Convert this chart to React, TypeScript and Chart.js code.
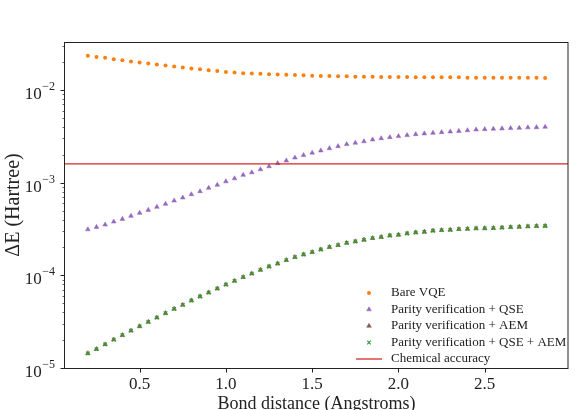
import { useEffect, useRef } from 'react';
import { Chart, registerables } from 'chart.js';
import { drawPoint } from 'chart.js/helpers';

Chart.register(...registerables);

// Bond distances (Angstroms)
const bondDistance = [
  0.2, 0.25, 0.3, 0.35, 0.4, 0.45, 0.5, 0.55, 0.6, 0.65,
  0.7, 0.75, 0.8, 0.85, 0.9, 0.95, 1.0, 1.05, 1.1, 1.15,
  1.2, 1.25, 1.3, 1.35, 1.4, 1.45, 1.5, 1.55, 1.6, 1.65,
  1.7, 1.75, 1.8, 1.85, 1.9, 1.95, 2.0, 2.05, 2.1, 2.15,
  2.2, 2.25, 2.3, 2.35, 2.4, 2.45, 2.5, 2.55, 2.6, 2.65,
  2.7, 2.75, 2.8, 2.85,
];

// Energy error (Hartree) for each method
const bareVqe = [
  2.34e-2, 2.28e-2, 2.23e-2, 2.15e-2, 2.10e-2, 2.03e-2, 1.98e-2, 1.93e-2, 1.89e-2, 1.84e-2,
  1.80e-2, 1.75e-2, 1.71e-2, 1.68e-2, 1.64e-2, 1.61e-2, 1.57e-2, 1.55e-2, 1.52e-2, 1.51e-2,
  1.50e-2, 1.48e-2, 1.47e-2, 1.46e-2, 1.45e-2, 1.44e-2, 1.43e-2, 1.42e-2, 1.42e-2, 1.41e-2,
  1.41e-2, 1.39e-2, 1.39e-2, 1.39e-2, 1.38e-2, 1.38e-2, 1.38e-2, 1.38e-2, 1.37e-2, 1.37e-2,
  1.37e-2, 1.37e-2, 1.37e-2, 1.37e-2, 1.36e-2, 1.36e-2, 1.36e-2, 1.36e-2, 1.36e-2, 1.36e-2,
  1.36e-2, 1.36e-2, 1.36e-2, 1.35e-2,
];

const parityQse = [
  3.13e-4, 3.32e-4, 3.52e-4, 3.79e-4, 4.05e-4, 4.37e-4, 4.71e-4, 5.07e-4, 5.47e-4, 5.89e-4,
  6.39e-4, 6.89e-4, 7.48e-4, 8.06e-4, 8.77e-4, 9.45e-4, 1.03e-3, 1.11e-3, 1.21e-3, 1.29e-3,
  1.39e-3, 1.50e-3, 1.62e-3, 1.73e-3, 1.86e-3, 1.98e-3, 2.10e-3, 2.22e-3, 2.35e-3, 2.47e-3,
  2.60e-3, 2.69e-3, 2.79e-3, 2.92e-3, 3.01e-3, 3.09e-3, 3.17e-3, 3.25e-3, 3.33e-3, 3.39e-3,
  3.44e-3, 3.50e-3, 3.56e-3, 3.61e-3, 3.67e-3, 3.74e-3, 3.77e-3, 3.81e-3, 3.84e-3, 3.87e-3,
  3.90e-3, 3.94e-3, 3.96e-3, 4.00e-3,
];

const parityAem = [
  1.44e-5, 1.60e-5, 1.80e-5, 2.02e-5, 2.26e-5, 2.53e-5, 2.82e-5, 3.14e-5, 3.50e-5, 3.90e-5,
  4.35e-5, 4.80e-5, 5.35e-5, 5.91e-5, 6.52e-5, 7.20e-5, 7.95e-5, 8.72e-5, 9.57e-5, 1.045e-4,
  1.146e-4, 1.245e-4, 1.34e-4, 1.46e-4, 1.57e-4, 1.68e-4, 1.78e-4, 1.90e-4, 2.02e-4, 2.12e-4,
  2.24e-4, 2.32e-4, 2.42e-4, 2.52e-4, 2.59e-4, 2.69e-4, 2.74e-4, 2.83e-4, 2.90e-4, 2.95e-4,
  3.03e-4, 3.08e-4, 3.10e-4, 3.15e-4, 3.17e-4, 3.21e-4, 3.22e-4, 3.24e-4, 3.27e-4, 3.31e-4,
  3.34e-4, 3.37e-4, 3.40e-4, 3.41e-4,
];

const parityQseAem = [
  1.44e-5, 1.60e-5, 1.80e-5, 2.02e-5, 2.26e-5, 2.53e-5, 2.82e-5, 3.14e-5, 3.50e-5, 3.90e-5,
  4.35e-5, 4.80e-5, 5.35e-5, 5.91e-5, 6.52e-5, 7.20e-5, 7.95e-5, 8.72e-5, 9.57e-5, 1.045e-4,
  1.146e-4, 1.245e-4, 1.34e-4, 1.46e-4, 1.57e-4, 1.68e-4, 1.78e-4, 1.90e-4, 2.02e-4, 2.12e-4,
  2.24e-4, 2.32e-4, 2.42e-4, 2.52e-4, 2.59e-4, 2.69e-4, 2.74e-4, 2.83e-4, 2.90e-4, 2.95e-4,
  3.03e-4, 3.08e-4, 3.10e-4, 3.15e-4, 3.17e-4, 3.21e-4, 3.22e-4, 3.24e-4, 3.27e-4, 3.31e-4,
  3.34e-4, 3.37e-4, 3.40e-4, 3.41e-4,
];

const chemicalAccuracy = 1.6e-3;

// Axis extents and tick values
const xRange = [0.0675, 2.9825];
const yRange = [1e-5, 3.3e-2];
const xTickValues = [0.5, 1.0, 1.5, 2.0, 2.5];
const yDecades = [1e-5, 1e-4, 1e-3, 1e-2];

const seriesLabels = [
  'Bare VQE',
  'Parity verification + QSE',
  'Parity verification + AEM',
  'Parity verification + QSE + AEM',
  'Chemical accuracy',
];

const COLORS = {
  orange: '#ff7f0e',
  purple: '#9467bd',
  brown: '#8c564b',
  green: '#2ca02c',
  red: '#d62728',
  ink: '#222222',
};

const SERIF = "'Liberation Serif', 'Times New Roman', serif";

function decadeExponent(value: number): number | null {
  const exp = Math.round(Math.log10(value));
  if (Math.abs(value / Math.pow(10, exp) - 1) > 1e-6) return null;
  return exp;
}

function points(values: number[]) {
  return bondDistance.map((x, i) => ({ x, y: values[i] }));
}

type LegendRow = {
  label: string;
  color: string;
  kind: 'point' | 'line';
  pointStyle?: string;
  radius?: number;
  borderWidth?: number;
};

const legendRows: LegendRow[] = [
  { label: seriesLabels[0], color: COLORS.orange, kind: 'point', pointStyle: 'circle', radius: 2, borderWidth: 0 },
  { label: seriesLabels[1], color: COLORS.purple, kind: 'point', pointStyle: 'triangle', radius: 2.7, borderWidth: 0.5 },
  { label: seriesLabels[2], color: COLORS.brown, kind: 'point', pointStyle: 'triangle', radius: 2.7, borderWidth: 0.5 },
  { label: seriesLabels[3], color: COLORS.green, kind: 'point', pointStyle: 'crossRot', radius: 2.5, borderWidth: 1.1 },
  { label: seriesLabels[4], color: COLORS.red, kind: 'line' },
];

// Frame, tick marks, power-of-ten labels and the in-axes legend
const framePlugin = {
  id: 'frameAndLegend',
  afterDraw(chart: any) {
    const { ctx, chartArea } = chart;
    const { left, right, top, bottom } = chartArea;
    const xs = chart.scales.x;
    const ys = chart.scales.y;
    ctx.save();

    // y tick marks and 10^n labels
    ctx.strokeStyle = COLORS.ink;
    ctx.fillStyle = COLORS.ink;
    ys.ticks.forEach((t: any) => {
      const exp = decadeExponent(t.value);
      const major = exp !== null;
      const py = Math.round(ys.getPixelForValue(t.value)) + 0.5;
      ctx.lineWidth = major ? 1 : 0.7;
      ctx.beginPath();
      ctx.moveTo(left - (major ? 4.5 : 2.5), py);
      ctx.lineTo(left, py);
      ctx.stroke();
      if (major) {
        const sup = '\u2212' + String(Math.abs(exp as number));
        ctx.textBaseline = 'alphabetic';
        ctx.textAlign = 'right';
        ctx.font = `12px ${SERIF}`;
        const supRight = left - 10;
        ctx.fillText(sup, supRight, py - 0.5);
        const supWidth = ctx.measureText(sup).width;
        ctx.font = `17px ${SERIF}`;
        ctx.fillText('10', supRight - supWidth - 0.5, py + 8);
      }
    });

    // x tick marks
    xs.ticks.forEach((t: any) => {
      const px = Math.round(xs.getPixelForValue(t.value)) + 0.5;
      ctx.lineWidth = 1;
      ctx.beginPath();
      ctx.moveTo(px, bottom);
      ctx.lineTo(px, bottom + 4.5);
      ctx.stroke();
    });

    // frame
    ctx.lineWidth = 1;
    ctx.strokeRect(Math.round(left) - 0.5, Math.round(top) + 0.5, Math.round(right - left) + 0.5, Math.round(bottom - top));

    // legend
    const rowGap = 16.5;
    const markerX = right - 199;
    const textX = right - 177;
    ctx.font = `13px ${SERIF}`;
    ctx.textBaseline = 'middle';
    ctx.textAlign = 'left';
    legendRows.forEach((row, i) => {
      const y = bottom - 9 - (legendRows.length - 1 - i) * rowGap;
      if (row.kind === 'line') {
        ctx.strokeStyle = row.color;
        ctx.lineWidth = 1.3;
        ctx.beginPath();
        ctx.moveTo(right - 212, y);
        ctx.lineTo(right - 186, y);
        ctx.stroke();
      } else {
        ctx.fillStyle = row.color;
        ctx.strokeStyle = row.color;
        ctx.lineWidth = row.borderWidth ?? 0;
        drawPoint(ctx, { pointStyle: row.pointStyle, radius: row.radius, rotation: 0, borderWidth: row.borderWidth }, markerX, y);
      }
      ctx.fillStyle = COLORS.ink;
      ctx.fillText(row.label, textX, y);
    });
    ctx.restore();
  },
};

export default function App() {
  const canvasRef = useRef<HTMLCanvasElement>(null);

  useEffect(() => {
    if (!canvasRef.current) return;
    const chart = new Chart(canvasRef.current, {
      type: 'scatter',
      data: {
        datasets: [
          {
            label: seriesLabels[0],
            data: points(bareVqe),
            pointStyle: 'circle',
            pointRadius: 2,
            borderWidth: 0,
            backgroundColor: COLORS.orange,
            borderColor: COLORS.orange,
            order: 5,
          },
          {
            label: seriesLabels[1],
            data: points(parityQse),
            pointStyle: 'triangle',
            pointRadius: 2.7,
            borderWidth: 0.5,
            backgroundColor: COLORS.purple,
            borderColor: COLORS.purple,
            order: 4,
          },
          {
            label: seriesLabels[2],
            data: points(parityAem),
            pointStyle: 'triangle',
            pointRadius: 2.7,
            borderWidth: 0.5,
            backgroundColor: COLORS.brown,
            borderColor: COLORS.brown,
            order: 3,
          },
          {
            label: seriesLabels[3],
            data: points(parityQseAem),
            pointStyle: 'crossRot',
            pointRadius: 2.5,
            borderWidth: 1.1,
            backgroundColor: COLORS.green,
            borderColor: COLORS.green,
            order: 2,
          },
          {
            label: seriesLabels[4],
            data: [
              { x: xRange[0], y: chemicalAccuracy },
              { x: xRange[1], y: chemicalAccuracy },
            ],
            showLine: true,
            pointRadius: 0,
            borderWidth: 1.3,
            borderColor: COLORS.red,
            backgroundColor: COLORS.red,
            order: 1,
          },
        ],
      },
      options: {
        animation: false,
        responsive: false,
        devicePixelRatio: 1,
        events: [],
        layout: { padding: { top: 42, right: 10, left: 0, bottom: 0 } },
        plugins: {
          legend: { display: false },
          tooltip: { enabled: false },
        },
        scales: {
          x: {
            type: 'linear',
            min: xRange[0],
            max: xRange[1],
            afterBuildTicks: (scale: any) => {
              scale.ticks = xTickValues.map((value) => ({ value }));
            },
            afterFit: (scale: any) => {
              scale.height = 42;
            },
            grid: { display: true, drawOnChartArea: false, drawTicks: true, tickLength: 4, tickColor: 'rgba(0,0,0,0)' },
            border: { display: false },
            ticks: {
              autoSkip: false,
              maxRotation: 0,
              padding: 2,
              color: COLORS.ink,
              font: { family: SERIF, size: 17 },
              callback: (v: any) => Number(v).toFixed(1),
            },
            title: {
              display: true,
              text: 'Bond distance (Angstroms)',
              color: COLORS.ink,
              font: { family: SERIF, size: 18, lineHeight: 1 },
              padding: { top: 0, bottom: -3 },
            },
          },
          y: {
            type: 'logarithmic',
            min: yRange[0],
            max: yRange[1],
            afterBuildTicks: (scale: any) => {
              const ticks: { value: number; major: boolean }[] = [];
              yDecades.forEach((d) => {
                for (let m = 1; m <= 9; m++) {
                  const value = m * d;
                  if (value >= yRange[0] && value <= yRange[1]) ticks.push({ value, major: m === 1 });
                }
              });
              scale.ticks = ticks;
            },
            afterFit: (scale: any) => {
              scale.width = 65;
            },
            grid: { display: false },
            border: { display: false },
            ticks: { display: false, autoSkip: false },
            title: {
              display: true,
              text: '\u0394E (Hartree)',
              color: COLORS.ink,
              font: { family: SERIF, size: 20, lineHeight: 1 },
              padding: { top: 4, bottom: 0 },
            },
          },
        },
      },
      plugins: [framePlugin],
    } as any);
    return () => chart.destroy();
  }, []);

  return (
    <div style={{ position: 'fixed', left: 0, top: 0, width: 578, height: 410, background: '#ffffff' }}>
      <canvas ref={canvasRef} width={578} height={410} style={{ display: 'block' }} />
    </div>
  );
}
